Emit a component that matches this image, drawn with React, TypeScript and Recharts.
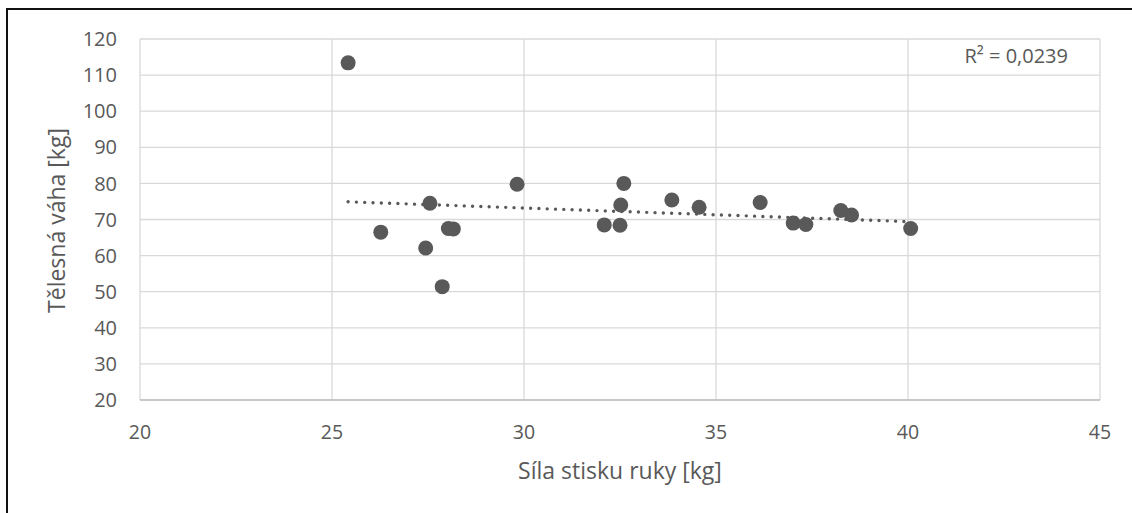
import { CartesianGrid, Label, Scatter, ScatterChart, XAxis, YAxis } from "recharts";

const gripStrength = [
  25.42, 26.27, 27.55, 27.44, 27.87, 28.03, 28.16, 29.82, 32.09, 32.5,
  32.52, 32.6, 33.85, 34.56, 36.15, 37.01, 37.34, 38.25, 38.53, 40.07,
];
const bodyWeight = [
  113.4, 66.5, 74.5, 62.1, 51.4, 67.5, 67.4, 79.75, 68.5, 68.4,
  74.0, 80.0, 75.4, 73.4, 74.7, 69.0, 68.6, 72.5, 71.25, 67.5,
];
const trendX = [25.42, 40.07];
const trendY = [74.9, 69.4];
const xTicks = [20, 25, 30, 35, 40, 45];
const yTicks = [20, 30, 40, 50, 60, 70, 80, 90, 100, 110, 120];

const INK = "#595959";
const GRID = "#d9d9d9";
const FONT = "'Open Sans', sans-serif";

const points = gripStrength.map((x, i) => ({ x, y: bodyWeight[i] }));
const trend = trendX.map((x, i) => ({ x, y: trendY[i] }));

const Dot = (p: any) => <circle cx={p.cx} cy={p.cy} r={7.5} fill={INK} />;

export default function App() {
  return (
    <div style={{ position: "absolute", left: 0, top: 0, width: 1132, height: 513, overflow: "hidden", background: "#fff", fontFamily: FONT }}>
      <div style={{ position: "absolute", left: 6, top: 8, width: 1300, height: 700, borderLeft: "2px solid #111", borderTop: "2px solid #111" }} />
      <ScatterChart width={1132} height={513} margin={{ top: 39, right: 32, bottom: 0, left: 0 }} style={{ position: "absolute", left: 0, top: 0 }}>
        <CartesianGrid stroke={GRID} strokeWidth={1.3} />
        <XAxis
          type="number"
          dataKey="x"
          domain={[20, 45]}
          ticks={xTicks}
          height={113}
          tickSize={0}
          tickMargin={25}
          axisLine={{ stroke: "#bfbfbf", strokeWidth: 1.5 }}
          tick={{ fill: INK, fontSize: 19.5, fontFamily: FONT }}
        >
          <Label value="Síla stisku ruky [kg]" position="insideBottom" offset={34} style={{ fill: INK, fontSize: 23, fontFamily: FONT }} />
        </XAxis>
        <YAxis
          type="number"
          dataKey="y"
          domain={[20, 120]}
          ticks={yTicks}
          width={140}
          tickSize={0}
          tickMargin={23}
          axisLine={false}
          tick={{ fill: INK, fontSize: 20, fontFamily: FONT }}
        >
          <Label
            content={() => (
              <text x={65} y={220.5} transform="rotate(-90 65 220.5)" textAnchor="middle" fill={INK} fontSize={23} fontFamily={FONT}>
                Tělesná váha [kg]
              </text>
            )}
          />
        </YAxis>
        <Scatter data={points} fill={INK} shape={Dot} isAnimationActive={false} />
        <Scatter
          data={trend}
          line={{ stroke: INK, strokeWidth: 3.4, strokeDasharray: "0 8.3", strokeLinecap: "round" }}
          lineType="joint"
          shape={() => <g />}
          isAnimationActive={false}
        />
      </ScatterChart>
      <svg width={1132} height={513} style={{ position: "absolute", left: 0, top: 0, pointerEvents: "none" }}>
        <text x={1068} y={63} textAnchor="end" fill={INK} fontSize={20} fontFamily={FONT}>
          R² = 0,0239
        </text>
      </svg>
    </div>
  );
}
